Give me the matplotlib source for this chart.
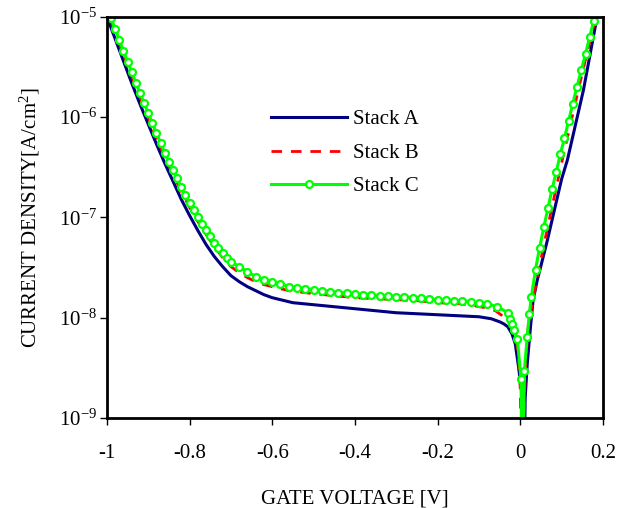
import matplotlib
matplotlib.use("Agg")
import matplotlib.pyplot as plt
import matplotlib.ticker as mticker
import numpy as np

plt.rcParams["font.family"] = "Liberation Serif"
plt.rcParams["mathtext.fontset"] = "custom"
plt.rcParams["mathtext.rm"] = "Liberation Serif"
plt.rcParams["mathtext.it"] = "Liberation Serif:italic"
plt.rcParams["axes.unicode_minus"] = False

# --- data: gate voltage [V], log10 of current density [A/cm2] ---
volt_a = [-1.00, -0.98, -0.96, -0.94, -0.92, -0.90, -0.88, -0.86, -0.84, -0.82,
          -0.80, -0.78, -0.76, -0.74, -0.72, -0.70, -0.68, -0.66, -0.64, -0.62,
          -0.60, -0.58, -0.55, -0.50, -0.45, -0.40, -0.35, -0.30, -0.25, -0.20,
          -0.15, -0.10, -0.07, -0.05, -0.04, -0.03, -0.02, -0.012, -0.005, 0.0,
          0.005, 0.008, 0.012, 0.017, 0.024, 0.031, 0.041, 0.065, 0.10, 0.114,
          0.153, 0.186]
logj_a = [-5.00, -5.22, -5.44, -5.66, -5.87, -6.07, -6.27, -6.46, -6.64, -6.82,
          -6.98, -7.13, -7.27, -7.39, -7.49, -7.58, -7.64, -7.69, -7.73, -7.77,
          -7.80, -7.82, -7.85, -7.87, -7.89, -7.91, -7.93, -7.95, -7.96, -7.97,
          -7.98, -7.99, -8.01, -8.04, -8.06, -8.09, -8.16, -8.26, -8.46, -8.62,
          -8.80, -10.0, -8.80, -8.46, -8.13, -7.83, -7.63, -7.24, -6.62, -6.43,
          -5.73, -5.00]

volt_b = [-0.99, -0.98, -0.96, -0.94, -0.92, -0.90, -0.88, -0.86, -0.84, -0.82,
          -0.80, -0.78, -0.76, -0.74, -0.72, -0.70, -0.68, -0.66, -0.64, -0.62,
          -0.60, -0.58, -0.56, -0.54, -0.52, -0.50, -0.45, -0.40, -0.35, -0.30,
          -0.25, -0.20, -0.15, -0.12, -0.10, -0.08, -0.06, -0.04, -0.03, -0.02,
          -0.01, -0.005, 0.0, 0.005, 0.01, 0.015, 0.02, 0.03, 0.04, 0.06,
          0.08, 0.10, 0.12, 0.14, 0.16, 0.18, 0.183]
logj_b = [-5.04, -5.16, -5.38, -5.59, -5.80, -6.00, -6.20, -6.40, -6.57, -6.74,
          -6.90, -7.04, -7.17, -7.29, -7.40, -7.49, -7.55, -7.60, -7.64, -7.67,
          -7.69, -7.71, -7.73, -7.74, -7.75, -7.76, -7.78, -7.80, -7.81, -7.82,
          -7.83, -7.85, -7.86, -7.87, -7.89, -7.90, -7.93, -7.99, -8.03, -8.10,
          -8.22, -8.35, -8.70, -10.0, -8.80, -8.35, -8.05, -7.85, -7.62, -7.22,
          -6.84, -6.46, -6.10, -5.74, -5.39, -5.05, -5.00]

volt_c = [-0.99, -0.98, -0.97, -0.96, -0.95, -0.94, -0.93, -0.92, -0.91, -0.90,
          -0.89, -0.88, -0.87, -0.86, -0.85, -0.84, -0.83, -0.82, -0.81, -0.80,
          -0.79, -0.78, -0.77, -0.76, -0.75, -0.74, -0.73, -0.72, -0.71, -0.70,
          -0.68, -0.66, -0.64, -0.62, -0.60, -0.58, -0.56, -0.54, -0.52, -0.50,
          -0.48, -0.46, -0.44, -0.42, -0.40, -0.38, -0.36, -0.34, -0.32, -0.30,
          -0.28, -0.26, -0.24, -0.22, -0.20, -0.18, -0.16, -0.14, -0.12, -0.10,
          -0.08, -0.055, -0.03, -0.025, -0.02, -0.015, -0.007, 0.002, 0.005, 0.010,
          0.017, 0.022, 0.027, 0.037, 0.047, 0.057, 0.067, 0.077, 0.087, 0.097,
          0.107, 0.117, 0.127, 0.137, 0.148, 0.158, 0.168, 0.178]
logj_c = [-5.01, -5.12, -5.23, -5.34, -5.45, -5.55, -5.66, -5.76, -5.86, -5.96,
          -6.06, -6.16, -6.26, -6.36, -6.45, -6.53, -6.61, -6.70, -6.78, -6.86,
          -6.93, -7.00, -7.07, -7.13, -7.19, -7.25, -7.30, -7.35, -7.40, -7.44,
          -7.49, -7.54, -7.59, -7.62, -7.64, -7.66, -7.69, -7.70, -7.71, -7.72,
          -7.73, -7.74, -7.75, -7.75, -7.76, -7.77, -7.77, -7.78, -7.78, -7.79,
          -7.79, -7.80, -7.80, -7.81, -7.82, -7.82, -7.83, -7.83, -7.84, -7.85,
          -7.86, -7.89, -7.95, -8.01, -8.06, -8.12, -8.21, -8.61, -10.0, -8.53,
          -8.19, -7.96, -7.79, -7.52, -7.30, -7.10, -6.91, -6.72, -6.55, -6.37,
          -6.21, -6.04, -5.87, -5.70, -5.53, -5.37, -5.20, -5.04]

x_ticks = [-1, -0.8, -0.6, -0.4, -0.2, 0, 0.2]
x_ticklabels = ["-1", "-0.8", "-0.6", "-0.4", "-0.2", "0", "0.2"]

fig = plt.figure(figsize=(6.4, 5.08), dpi=100)
ax = fig.add_axes([0.167, 0.177, 0.775, 0.79])

ax.plot(volt_a, 10 ** np.array(logj_a), color="#000080", linewidth=2.2, label="Stack A")
ax.plot(volt_b, 10 ** np.array(logj_b), color="#ff0000", linewidth=2.0,
        linestyle=(0, (3.8, 3.2)), label="Stack B")
ax.plot(volt_c, 10 ** np.array(logj_c), color="#00ff00", linewidth=2.2,
        marker="o", markersize=5, markerfacecolor="white", markeredgecolor="#00ff00",
        markeredgewidth=1.6, label="Stack C")

ax.set_yscale("log")
ax.set_xlim(-1, 0.2)
ax.set_ylim(1e-9, 1e-5)
ax.set_xticks(x_ticks)
ax.set_xticklabels(x_ticklabels)
ax.yaxis.set_major_locator(mticker.LogLocator(base=10, numticks=10))
ax.yaxis.set_minor_locator(mticker.NullLocator())
ax.yaxis.set_major_formatter(mticker.LogFormatterMathtext())

ax.tick_params(axis="both", which="major", direction="out", length=5, width=1,
               labelsize=15)
ax.tick_params(axis="y", pad=2)
ax.tick_params(axis="x", pad=14)
for s in ax.spines.values():
    s.set_linewidth(2)

ax.set_xlabel("GATE VOLTAGE [V]", fontsize=15, labelpad=19)
ax.set_ylabel("CURRENT DENSITY[A/cm$^2$]", fontsize=15, labelpad=12)

ax.legend(loc="upper left", bbox_to_anchor=(0.294, 0.815), frameon=False,
          fontsize=15, handlelength=3.65, handletextpad=0.25, labelspacing=0.67,
          numpoints=1)

plt.savefig("out.png", dpi=100)
plt.close()
